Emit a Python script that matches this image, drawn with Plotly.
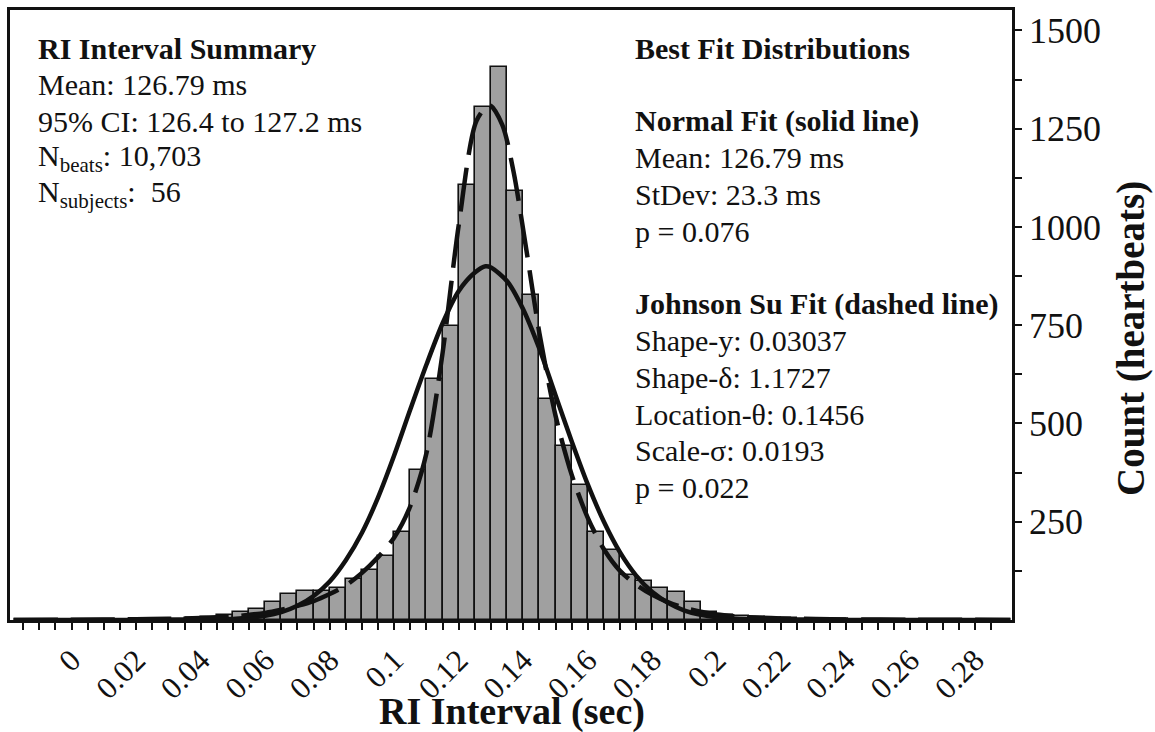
import plotly.graph_objects as go

# ---------------- data ----------------
bin_start = [-0.015, -0.010, -0.005, 0.000, 0.005, 0.010, 0.015, 0.020, 0.025, 0.030,
             0.035, 0.040, 0.045, 0.050, 0.055, 0.060, 0.065, 0.070, 0.075, 0.080,
             0.085, 0.090, 0.095, 0.100, 0.105, 0.110, 0.115, 0.120, 0.125, 0.130,
             0.135, 0.140, 0.145, 0.150, 0.155, 0.160, 0.165, 0.170, 0.175, 0.180,
             0.185, 0.190, 0.195, 0.200, 0.205, 0.210, 0.215, 0.220, 0.225, 0.230,
             0.235, 0.240, 0.245, 0.250, 0.255, 0.260, 0.265, 0.270, 0.275, 0.280]
counts = [0, 0, 0, 1, 0, 1, 1, 1, 2, 3,
          5, 8, 13, 20, 28, 46, 66, 74, 74, 82,
          105, 126, 164, 224, 381, 614, 747, 1108, 1305, 1408,
          1092, 828, 562, 443, 343, 225, 177, 115, 100, 82,
          70, 46, 20, 14, 10, 7, 5, 4, 3, 2,
          2, 1, 1, 1, 1, 0, 1, 0, 0, 1]
bin_width = 0.005

normal_x = [-0.018, 0.03, 0.04, 0.05, 0.06, 0.065, 0.07, 0.075, 0.08, 0.085, 0.09, 0.095,
            0.10, 0.105, 0.11, 0.115, 0.12, 0.125, 0.1283, 0.13, 0.135, 0.14, 0.145,
            0.15, 0.155, 0.16, 0.165, 0.17, 0.175, 0.18, 0.185, 0.19, 0.195, 0.20,
            0.21, 0.22, 0.23, 0.291]
normal_y = [0, 0.1, 0.6, 2.8, 11, 20, 36, 61, 98, 152, 222, 312,
            419, 536, 650, 755, 837, 884, 900, 897, 862, 790, 690,
            572, 455, 345, 250, 172, 113, 71, 43, 24, 13, 7,
            1.6, 0.4, 0.1, 0]

jsu_x = [-0.018, 0.0, 0.02, 0.03, 0.04, 0.05, 0.06, 0.065, 0.07, 0.075, 0.08, 0.085,
         0.09, 0.095, 0.10, 0.105, 0.11, 0.115, 0.12, 0.1255, 0.1295, 0.1335, 0.137,
         0.141, 0.145, 0.15, 0.155, 0.16, 0.165, 0.17, 0.175, 0.18, 0.185, 0.19,
         0.195, 0.20, 0.21, 0.22, 0.24, 0.26, 0.291]
jsu_y = [0.3, 0.5, 2, 3, 5, 9, 18, 26, 36, 48, 66, 88,
         120, 160, 210, 290, 425, 680, 1005, 1270, 1310, 1260, 1140,
         940, 730, 520, 370, 260, 180, 125, 90, 64, 45, 31,
         21, 14, 7, 4, 1.5, 0.7, 0.3]

x_tick_vals = [0, 0.02, 0.04, 0.06, 0.08, 0.1, 0.12, 0.14, 0.16, 0.18, 0.2, 0.22, 0.24, 0.26, 0.28]
x_tick_text = ["0", "0.02", "0.04", "0.06", "0.08", "0.1", "0.12", "0.14", "0.16", "0.18",
               "0.2", "0.22", "0.24", "0.26", "0.28"]
x_minor_vals = [-0.015, -0.01, -0.005, 0.005, 0.01, 0.015, 0.025, 0.03, 0.035, 0.045, 0.05,
                0.055, 0.065, 0.07, 0.075, 0.085, 0.09, 0.095, 0.105, 0.11, 0.115, 0.125,
                0.13, 0.135, 0.145, 0.15, 0.155, 0.165, 0.17, 0.175, 0.185, 0.19, 0.195,
                0.205, 0.21, 0.215, 0.225, 0.23, 0.235, 0.245, 0.25, 0.255, 0.265, 0.27,
                0.275, 0.285]
y_tick_vals = [250, 500, 750, 1000, 1250, 1500]
y_tick_text = ["250", "500", "750", "1000", "1250", "1500"]
y_minor_vals = [125, 375, 625, 875, 1125, 1375]

x_title = "<b>RI Interval (sec)</b>"
y_title = "<b>Count (heartbeats)</b>"

left_lines = ["<b>RI Interval Summary</b>",
              "Mean: 126.79 ms",
              "95% CI: 126.4 to 127.2 ms",
              "N<sub>beats</sub>: 10,703",
              "N<sub>subjects</sub>:  56"]
right_lines = ["<b>Best Fit Distributions</b>",
               "",
               "<b>Normal Fit (solid line)</b>",
               "Mean: 126.79 ms",
               "StDev: 23.3 ms",
               "p = 0.076",
               "",
               "<b>Johnson Su Fit (dashed line)</b>",
               "Shape-y: 0.03037",
               "Shape-δ: 1.1727",
               "Location-θ: 0.1456",
               "Scale-σ: 0.0193",
               "p = 0.022"]

# ---------------- figure ----------------
FONT = "Liberation Serif"
INK = "#111111"
W, H = 1155, 732
L, R, T, B = 10, 143, 10, 112
plot_w = W - L - R
plot_h = H - T - B

fig = go.Figure()
fig.add_trace(go.Bar(x=bin_start, y=counts, width=bin_width, offset=0,
                     marker=dict(color="#a0a0a0", line=dict(color=INK, width=1.6)),
                     showlegend=False, hoverinfo="x+y"))
fig.add_trace(go.Scatter(x=normal_x, y=normal_y, mode="lines",
                         line=dict(color=INK, width=4.5, shape="spline", smoothing=0.8),
                         showlegend=False))
fig.add_trace(go.Scatter(x=jsu_x, y=jsu_y, mode="lines",
                         line=dict(color=INK, width=4.5, shape="spline", smoothing=0.8,
                                   dash="44px,13px"),
                         showlegend=False))


def px_to_paper(px, py):
    return (px - L) / plot_w, (H - B - py) / plot_h


annotations = []
line_step = 36.6
for i, txt in enumerate(left_lines):
    if not txt:
        continue
    xp, yp = px_to_paper(36, 48 + i * line_step)
    annotations.append(dict(x=xp, y=yp, xref="paper", yref="paper", text=txt,
                            showarrow=False, xanchor="left", yanchor="middle",
                            font=dict(family=FONT, size=30, color=INK)))
for i, txt in enumerate(right_lines):
    if not txt:
        continue
    xp, yp = px_to_paper(633, 48 + i * line_step)
    annotations.append(dict(x=xp, y=yp, xref="paper", yref="paper", text=txt,
                            showarrow=False, xanchor="left", yanchor="middle",
                            font=dict(family=FONT, size=30, color=INK)))

# axis titles
xp, yp = px_to_paper(512, 712)
annotations.append(dict(x=xp, y=yp, xref="paper", yref="paper", text=x_title,
                        showarrow=False, xanchor="center", yanchor="middle",
                        font=dict(family=FONT, size=38, color=INK)))
xp, yp = px_to_paper(1131, 339)
annotations.append(dict(x=xp, y=yp, xref="paper", yref="paper", text=y_title,
                        showarrow=False, xanchor="center", yanchor="middle",
                        textangle=-90, font=dict(family=FONT, size=39, color=INK)))

fig.update_layout(
    width=W, height=H,
    margin=dict(l=L, r=R, t=T, b=B, autoexpand=False),
    paper_bgcolor="white", plot_bgcolor="white",
    bargap=0,
    font=dict(family=FONT, color=INK),
    annotations=annotations,
    xaxis=dict(range=[-0.0191, 0.2915], tickmode="array", tickvals=x_tick_vals,
               ticktext=x_tick_text, tickangle=-45, ticks="outside", ticklen=7,
               tickwidth=2, tickcolor=INK,
               tickfont=dict(family=FONT, size=31, color=INK),
               minor=dict(tickmode="array", tickvals=x_minor_vals, ticks="outside",
                          ticklen=7, tickwidth=2, tickcolor=INK, showgrid=False),
               showgrid=False, zeroline=False, showline=True, linewidth=2.5,
               linecolor=INK, mirror=True, automargin=False),
    yaxis=dict(range=[0, 1552], side="right", tickmode="array", tickvals=y_tick_vals,
               ticktext=y_tick_text, ticks="outside", ticklen=7, tickwidth=2,
               tickcolor=INK,
               tickfont=dict(family=FONT, size=36, color=INK),
               minor=dict(tickmode="array", tickvals=y_minor_vals, ticks="outside",
                          ticklen=7, tickwidth=2, tickcolor=INK, showgrid=False),
               showgrid=False, zeroline=False, showline=True, linewidth=2.5,
               linecolor=INK, mirror=True, automargin=False),
)

fig.write_html("out.html")
